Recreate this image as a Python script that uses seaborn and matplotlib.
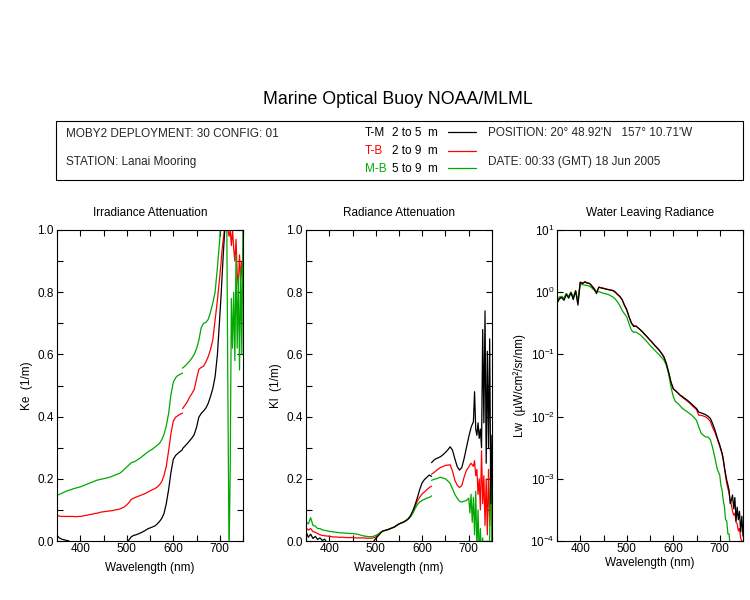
import numpy as np
import pandas as pd
import matplotlib
matplotlib.use("Agg")
import matplotlib.pyplot as plt
import seaborn as sns
from matplotlib.ticker import MultipleLocator, LogLocator, NullLocator
from matplotlib.lines import Line2D
from matplotlib.patches import Rectangle

# ---------------- wavelength grids (blue and red spectrograph) ----------------
WL_BLUE = np.arange(350, 621, 5)                       # 55 points
WL_RED = np.concatenate([np.arange(620, 701, 5),       # 17 points
                         np.arange(702.5, 750.1, 2.5)])  # 20 points

PAIRS = ["T-M", "T-B", "M-B"]
DEPTHS = {"T-M": "2 to 5  m", "T-B": "2 to 9  m", "M-B": "5 to 9  m"}
COLORS = {"T-M": "#000000", "T-B": "#ff0000", "M-B": "#00a800"}

# ---------------- Irradiance attenuation Ke (1/m) ----------------
KE_TM_BLUE = [.018, .010, .006, .004, .002, .001, -.01, -.02, -.02, -.02,
              -.02, -.02, -.02, -.02, -.02, -.02, -.02, -.02, -.02, -.02,
              -.02, -.02, -.02, -.02, -.02, -.02, -.02, -.02, -.02, -.01,
              -.005, .004, .014, .018, .020, .023, .026, .030, .034, .039,
              .042, .045, .048, .054, .062, .072, .088, .120, .165, .220,
              .262, .275, .282, .288, .294]
KE_TB_BLUE = [.083, .080, .079, .079, .079, .079, .079, .079, .078, .079,
              .079, .080, .082, .083, .085, .086, .088, .089, .091, .093,
              .094, .095, .096, .097, .098, .100, .101, .103, .106, .110,
              .116, .124, .134, .138, .141, .144, .147, .150, .153, .157,
              .161, .165, .168, .173, .180, .190, .210, .240, .290, .345,
              .385, .398, .403, .408, .411]
KE_MB_BLUE = [.147, .150, .153, .157, .160, .163, .165, .168, .170, .172,
              .174, .177, .180, .183, .186, .189, .192, .195, .197, .199,
              .200, .202, .204, .206, .209, .212, .215, .218, .224, .231,
              .238, .245, .252, .254, .258, .263, .268, .274, .280, .286,
              .291, .295, .301, .307, .313, .325, .342, .370, .410, .470,
              .510, .525, .532, .536, .540]
KE_TM_RED = [.297, .305, .313, .322, .331, .342, .365, .398, .410, .418,
             .427, .442, .464, .490, .528, .600, .720,
             .780, .850, .920, .980, 1.05, 1.1, 1.1, 1.1, 1.1, 1.1,
             1.1, 1.1, 1.1, 1.1, 1.1, 1.1, 1.1, 1.1, 1.1, 1.1]
KE_TB_RED = [.426, .436, .447, .462, .474, .487, .520, .552, .558, .562,
             .575, .592, .615, .646, .710, .775, .850,
             .890, .936, .970, 1.0, 1.05, 1.1, 1.0, .98, 1.0, .95,
             1.0, .94, .90, .97, .86, .82, .92, .84, .90, .82]
KE_MB_RED = [.556, .562, .570, .578, .588, .600, .618, .645, .685, .700,
             .703, .712, .735, .765, .800, .880, .970,
             1.05, 1.1, 1.1, 1.1, 1.1, 1.05, .48, -.05, .23, .78,
             .62, .80, .58, .92, .62, .85, .55, .88, .60, 1.05]

# ---------------- Radiance attenuation Kl (1/m) ----------------
KL_TM_BLUE = [.030, .012, .022, .008, .015, .005, .010, .002, .006, -.005,
              -.010, -.02, -.02, -.02, -.02, -.02, -.02, -.02, -.02, -.02,
              -.02, -.02, -.02, -.02, -.02, -.02, -.02, -.02, -.02, -.002,
              .008, .016, .025, .032, .034, .036, .039, .042, .045, .050,
              .055, .058, .061, .066, .072, .082, .098, .118, .142, .168,
              .188, .198, .205, .212, .208]
KL_TB_BLUE = [.042, .035, .040, .030, .028, .024, .020, .018, .017, .016,
              .015, .014, .013, .013, .012, .012, .012, .011, .011, .011,
              .011, .010, .010, .010, .010, .010, .009, .009, .009, .010,
              .013, .018, .026, .032, .034, .036, .039, .042, .045, .050,
              .055, .058, .061, .065, .071, .080, .095, .112, .130, .142,
              .152, .158, .165, .172, .176]
KL_MB_BLUE = [.062, .055, .075, .050, .048, .040, .040, .036, .034, .033,
              .031, .030, .029, .028, .027, .026, .026, .025, .025, .024,
              .024, .023, .022, .020, .018, .016, .015, .014, .014, .015,
              .018, .022, .028, .032, .034, .036, .039, .042, .045, .050,
              .055, .058, .061, .065, .070, .078, .090, .105, .118, .126,
              .131, .134, .138, .140, .145]
KL_TM_RED = [.252, .260, .265, .268, .272, .278, .285, .293, .303, .292,
             .265, .240, .228, .236, .265, .300, .335,
             .350, .365, .375, .383, .480, .360, .340, .380, .330, .360,
             .300, .680, .380, .740, .250, .610, .300, .650, .120, .340]
KL_TB_RED = [.215, .220, .226, .232, .237, .240, .243, .244, .245, .225,
             .196, .180, .172, .178, .205, .227, .238,
             .245, .250, .245, .240, .258, .210, .230, .150, .200, .100,
             .290, .120, .210, .050, .200, .020, .230, .050, .220, -.020]
KL_MB_RED = [.195, .198, .200, .203, .205, .202, .200, .193, .185, .168,
             .150, .138, .128, .125, .128, .130, .138,
             .090, .150, .060, .140, .020, .160, -.030, .100, -.050, .040,
             -.050, .010, -.050, .000, -.050, .000, -.050, .010, .340, -.050]

# ---------------- Water leaving radiance Lw (uW/cm^2/sr/nm) ----------------
LW_TM_BLUE = [.66, .78, .82, .74, .92, .80, .98, .76, 1.05, .62,
              1.44, 1.38, 1.46, 1.40, 1.38, 1.25, 1.12, .95, 1.20, 1.17,
              1.15, 1.12, 1.10, 1.08, 1.06, 1.00, .92, .85, .76, .62,
              .52, .40, .32, .28, .285, .265, .245, .225, .205, .187,
              .170, .155, .140, .128, .117, .104, .091, .072, .052, .036,
              .028, .026, .024, .022, .021]
LW_TB_BLUE = [.68, .80, .85, .78, .95, .84, 1.00, .80, 1.06, .70,
              1.45, 1.40, 1.47, 1.42, 1.39, 1.27, 1.15, 1.00, 1.21, 1.18,
              1.16, 1.13, 1.11, 1.09, 1.07, 1.02, .93, .86, .76, .62,
              .52, .40, .32, .29, .285, .265, .245, .225, .205, .187,
              .170, .155, .140, .128, .116, .103, .090, .071, .051, .036,
              .028, .026, .024, .022, .0205]
LW_MB_BLUE = [.72, .84, .86, .80, .95, .86, 1.00, .85, 1.02, .75,
              1.38, 1.32, 1.30, 1.28, 1.25, 1.17, 1.08, 1.02, 1.02, .99,
              .96, .94, .92, .88, .84, .78, .70, .61, .51, .45,
              .40, .31, .245, .225, .230, .215, .204, .186, .170, .155,
              .140, .128, .117, .107, .098, .089, .081, .067, .049, .030,
              .021, .0173, .0163, .0148, .0135]
LW_TM_RED = [.0208, .0196, .0184, .0171, .0158, .0146, .0135, .0118, .0115, .0111,
             .0107, .0101, .0093, .0076, .0060, .0045, .0035,
             .0030, .0026, .0021, .00155, .0012, .00095, .0008, .00066, .0004, .00045,
             .00055, .00033, .0005, .00021, .00035, .00022, .0003, .00014, .00025, .00012]
LW_TB_RED = [.0203, .0190, .0178, .0166, .0152, .0140, .0130, .0105, .0105, .0102,
             .0099, .0092, .0083, .0066, .0055, .0043, .0033,
             .0029, .0025, .0020, .0015, .0011, .00085, .0007, .00059, .00045, .00038,
             .0003, .00026, .00028, .0002, .00019, .000145, .00016, .00011, .0001, .00008]
LW_MB_RED = [.0135, .0127, .0120, .0112, .0105, .0096, .0087, .0068, .0054, .0050,
             .0047, .0047, .0042, .0031, .0021, .0014, .00115,
             .00078, .00066, .00045, .00036, .00022, .00021, .00013, .00013, .00008, .00005,
             .00003, .00003, .00003, .00003, .00003, .00003, .00003, .00003, .00003, .00003]

PANELS = [
    ("Irradiance Attenuation", "Ke  (1/m)",
     {"T-M": (KE_TM_BLUE, KE_TM_RED), "T-B": (KE_TB_BLUE, KE_TB_RED), "M-B": (KE_MB_BLUE, KE_MB_RED)}),
    ("Radiance Attenuation", "Kl  (1/m)",
     {"T-M": (KL_TM_BLUE, KL_TM_RED), "T-B": (KL_TB_BLUE, KL_TB_RED), "M-B": (KL_MB_BLUE, KL_MB_RED)}),
    ("Water Leaving Radiance", "Lw  (µW/cm²/sr/nm)",
     {"T-M": (LW_TM_BLUE, LW_TM_RED), "T-B": (LW_TB_BLUE, LW_TB_RED), "M-B": (LW_MB_BLUE, LW_MB_RED)}),
]


def long_frame(series):
    rows = []
    for pair, (blue, red) in series.items():
        rows.append(pd.DataFrame({"wl": WL_BLUE, "val": blue, "pair": pair, "seg": "blue"}))
        rows.append(pd.DataFrame({"wl": WL_RED, "val": red, "pair": pair, "seg": "red"}))
    return pd.concat(rows, ignore_index=True)


sns.set_theme(style="ticks")
plt.rcParams["font.family"] = ["Liberation Sans", "DejaVu Sans"]
plt.rcParams["mathtext.default"] = "regular"
plt.rcParams["axes.linewidth"] = 0.8

W, H = 750, 600
fig = plt.figure(figsize=(7.5, 6), dpi=100)
fig.patch.set_facecolor("white")

FS = 8.5
lefts = [57, 306, 557]
top_px, bot_px = 230, 541
for i, (title, ylab, series) in enumerate(PANELS):
    l = lefts[i]
    ax = fig.add_axes([l / W, 1 - bot_px / H, 186 / W, (bot_px - top_px) / H])
    df = long_frame(series)
    log = (i == 2)
    if log:
        ax.set_yscale("log")
    sns.lineplot(data=df, x="wl", y="val", hue="pair", units="seg", estimator=None,
                 sort=False, hue_order=["T-B", "M-B", "T-M"], palette=COLORS,
                 legend=False, linewidth=0.9, ax=ax)
    ax.set_xlim(350, 750)
    ax.xaxis.set_major_locator(MultipleLocator(100))
    ax.xaxis.set_minor_locator(MultipleLocator(50))
    if log:
        ax.set_ylim(1e-4, 10)
        ax.yaxis.set_major_locator(LogLocator(base=10, numticks=10))
        ax.yaxis.set_minor_locator(NullLocator())
    else:
        ax.set_ylim(0, 1)
        ax.yaxis.set_major_locator(MultipleLocator(0.2))
        ax.yaxis.set_minor_locator(MultipleLocator(0.1))
        ax.yaxis.set_major_formatter(matplotlib.ticker.FormatStrFormatter("%.1f"))
    ax.tick_params(which="both", direction="in", top=True, right=True,
                   length=4.5, width=0.8, color="black", labelsize=FS,
                   labelcolor="black")
    ax.tick_params(axis="x", pad=1.5)
    ax.tick_params(axis="y", pad=1.5 if log else 2.5)
    for s in ax.spines.values():
        s.set_color("black")
        s.set_linewidth(0.8)
    ax.set_facecolor("white")
    ax.set_title(title, fontsize=FS, pad=10, color="black")
    ax.set_xlabel("Wavelength (nm)", fontsize=FS, color="black")
    ax.set_ylabel(ylab, fontsize=FS, color="black")
    ax.xaxis.set_label_coords(0.5, -0.052 if log else -0.066)
    ax.yaxis.set_label_coords(-0.165 if log else -0.128, 0.5)

# ---------------- header ----------------
fig.text(398 / W, 1 - 99 / H, "Marine Optical Buoy NOAA/MLML", fontsize=12.8,
         ha="center", va="center", color="black")
fig.add_artist(Rectangle((56 / W, 1 - 180 / H), 687 / W, 59.3 / H,
                         transform=fig.transFigure, fill=False, lw=0.8, ec="black"))
fig.text(66 / W, 1 - 134 / H, "MOBY2 DEPLOYMENT: 30 CONFIG: 01", fontsize=FS, va="center")
fig.text(66 / W, 1 - 161.7 / H, "STATION: Lanai Mooring", fontsize=FS, va="center")
fig.text(488 / W, 1 - 133 / H, "POSITION: 20° 48.92'N   157° 10.71'W", fontsize=FS, va="center")
fig.text(488 / W, 1 - 161.7 / H, "DATE: 00:33 (GMT) 18 Jun 2005", fontsize=FS, va="center")
rows_y = {"T-M": 133.3, "T-B": 151.2, "M-B": 169.0}
line_y = {"T-M": 131.7, "T-B": 150.5, "M-B": 168.3}
for pair in PAIRS:
    fig.text(365 / W, 1 - rows_y[pair] / H, pair, fontsize=FS, va="center", color=COLORS[pair])
    fig.text(392 / W, 1 - rows_y[pair] / H, DEPTHS[pair], fontsize=FS, va="center", color="black")
    fig.add_artist(Line2D([448 / W, 476 / W], [1 - line_y[pair] / H] * 2,
                          transform=fig.transFigure, color=COLORS[pair], lw=0.9))

fig.savefig("out.png", dpi=100, facecolor="white")
